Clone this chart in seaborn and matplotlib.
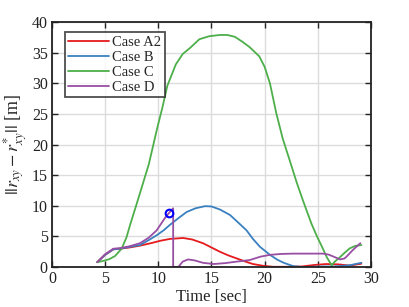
import numpy as np
import pandas as pd
import matplotlib
matplotlib.use("Agg")
import matplotlib.pyplot as plt
import seaborn as sns

# values
t_a2 = [4.26, 5.0, 5.77, 6.4, 7.3, 8.28, 9.3, 10.2, 11.1, 12.35, 13.2, 14.2, 15.0, 15.8,
        16.6, 17.4, 18.2, 18.9, 19.9, 20.8, 22.0, 23.5, 24.7, 25.8, 26.9, 28.0, 29.1]
e_a2 = [0.8, 2.0, 2.9, 3.0, 3.2, 3.5, 3.9, 4.3, 4.6, 4.75, 4.5, 3.9, 3.2, 2.5,
        1.9, 1.4, 0.9, 0.5, 0.2, 0.05, 0.05, 0.1, 0.35, 0.5, 0.45, 0.25, 0.55]

t_b = [4.26, 5.0, 5.77, 6.4, 7.3, 8.28, 9.1, 9.85, 10.5, 11.1, 11.9, 12.67, 13.5, 14.4,
       15.0, 15.8, 16.75, 17.5, 18.3, 18.9, 19.57, 20.5, 21.2, 21.8, 22.7, 23.5, 24.5,
       25.5, 26.5, 27.3, 28.0, 29.1]
e_b = [0.8, 2.0, 2.9, 3.0, 3.3, 3.6, 4.4, 5.2, 6.0, 6.9, 8.0, 9.0, 9.6, 9.95,
       9.9, 9.4, 8.5, 7.3, 6.0, 4.6, 3.3, 2.0, 1.2, 0.7, 0.15, 0.02, 0.05,
       0.1, 0.1, 0.2, 0.3, 0.7]

t_c = [4.26, 4.8, 5.4, 5.93, 6.55, 7.0, 7.37, 8.16, 9.11, 9.9, 10.38, 10.85, 11.65, 12.3,
       13.0, 13.86, 14.8, 15.8, 16.5, 17.2, 17.9, 18.6, 19.5, 20.0, 20.5, 21.1, 21.7,
       22.4, 23.0, 23.6, 24.4, 24.9, 25.4, 25.85, 26.3, 26.6, 26.95, 27.5, 28.0, 28.5, 29.1]
e_c = [0.8, 1.0, 1.3, 1.8, 3.0, 4.8, 7.0, 11.4, 16.8, 22.7, 26.0, 29.6, 33.1, 34.8,
       35.8, 37.2, 37.7, 37.9, 37.9, 37.6, 36.8, 35.9, 34.4, 32.7, 30.0, 25.1, 21.0,
       17.2, 13.9, 10.9, 7.1, 5.1, 3.3, 1.6, 0.3, 0.9, 1.4, 2.3, 3.05, 3.45, 3.6]

t_d = [4.26, 5.0, 5.77, 6.4, 7.3, 8.28, 9.1, 9.85, 10.6, 11.04, 11.4, 11.4, 11.9, 12.3,
       12.8, 13.4, 14.2, 15.2, 16.3, 17.4, 18.6, 19.6, 20.5, 21.6, 22.7, 24.0, 25.5,
       26.0, 26.5, 27.1, 27.5, 27.7, 28.3, 29.0]
e_d = [0.8, 2.1, 3.0, 3.1, 3.4, 3.9, 4.8, 6.0, 7.95, 8.9, 9.6, 0.0, 0.05, 0.9,
       1.25, 1.1, 0.7, 0.5, 0.65, 0.9, 1.15, 1.7, 2.0, 2.15, 2.2, 2.2, 2.2,
       2.05, 1.7, 1.25, 1.4, 1.7, 2.8, 3.9]

mark_t = [11.04]
mark_e = [8.9]

cases = ["Case A2", "Case B", "Case C", "Case D"]
colors = ["#e41a1c", "#3a80c0", "#4daf4a", "#984ea3"]

df = pd.concat([
    pd.DataFrame({"t": t, "err": e, "case": c})
    for t, e, c in zip([t_a2, t_b, t_c, t_d], [e_a2, e_b, e_c, e_d], cases)
], ignore_index=True)

sns.set_style("whitegrid")
plt.rcParams["font.family"] = ["Liberation Serif", "DejaVu Serif"]
plt.rcParams["mathtext.fontset"] = "stix"

fig = plt.figure(figsize=(4.09, 3.07), dpi=100)
ax = fig.add_axes([0.127, 0.130, 0.780, 0.798])

sns.lineplot(data=df, x="t", y="err", hue="case", palette=colors, sort=False,
             estimator=None, linewidth=1.3, ax=ax)
ax.plot(mark_t, mark_e, "o", mfc="none", mec="#0000ff", ms=5.5, mew=1.5)

ax.set_xlim(0, 30)
ax.set_ylim(0, 40)
ax.set_xticks(np.arange(0, 31, 5))
ax.set_yticks(np.arange(0, 41, 5))
ax.grid(True, color="#dcdcdc", linewidth=1.0)
for s in ax.spines.values():
    s.set_color("#222222")
    s.set_linewidth(1.3)
ax.tick_params(direction="in", length=4, width=1.0, labelsize=11.5, colors="#222222",
               top=True, right=True, bottom=True, left=True, pad=3)
ax.set_xlabel("Time [sec]", fontsize=12, labelpad=1)
ax.set_ylabel(r"$||r_{xy} - r^{*}_{xy}||$ [m]", fontsize=13, labelpad=2)

leg = ax.legend(loc="upper left", bbox_to_anchor=(0.04, 0.96), fontsize=10.5,
                frameon=True, fancybox=False, handlelength=2.8, handletextpad=0.2,
                borderpad=0.25, labelspacing=0.12, borderaxespad=0)
leg.get_frame().set_edgecolor("#222222")
leg.get_frame().set_linewidth(1.3)

fig.savefig("out.png", dpi=100)
